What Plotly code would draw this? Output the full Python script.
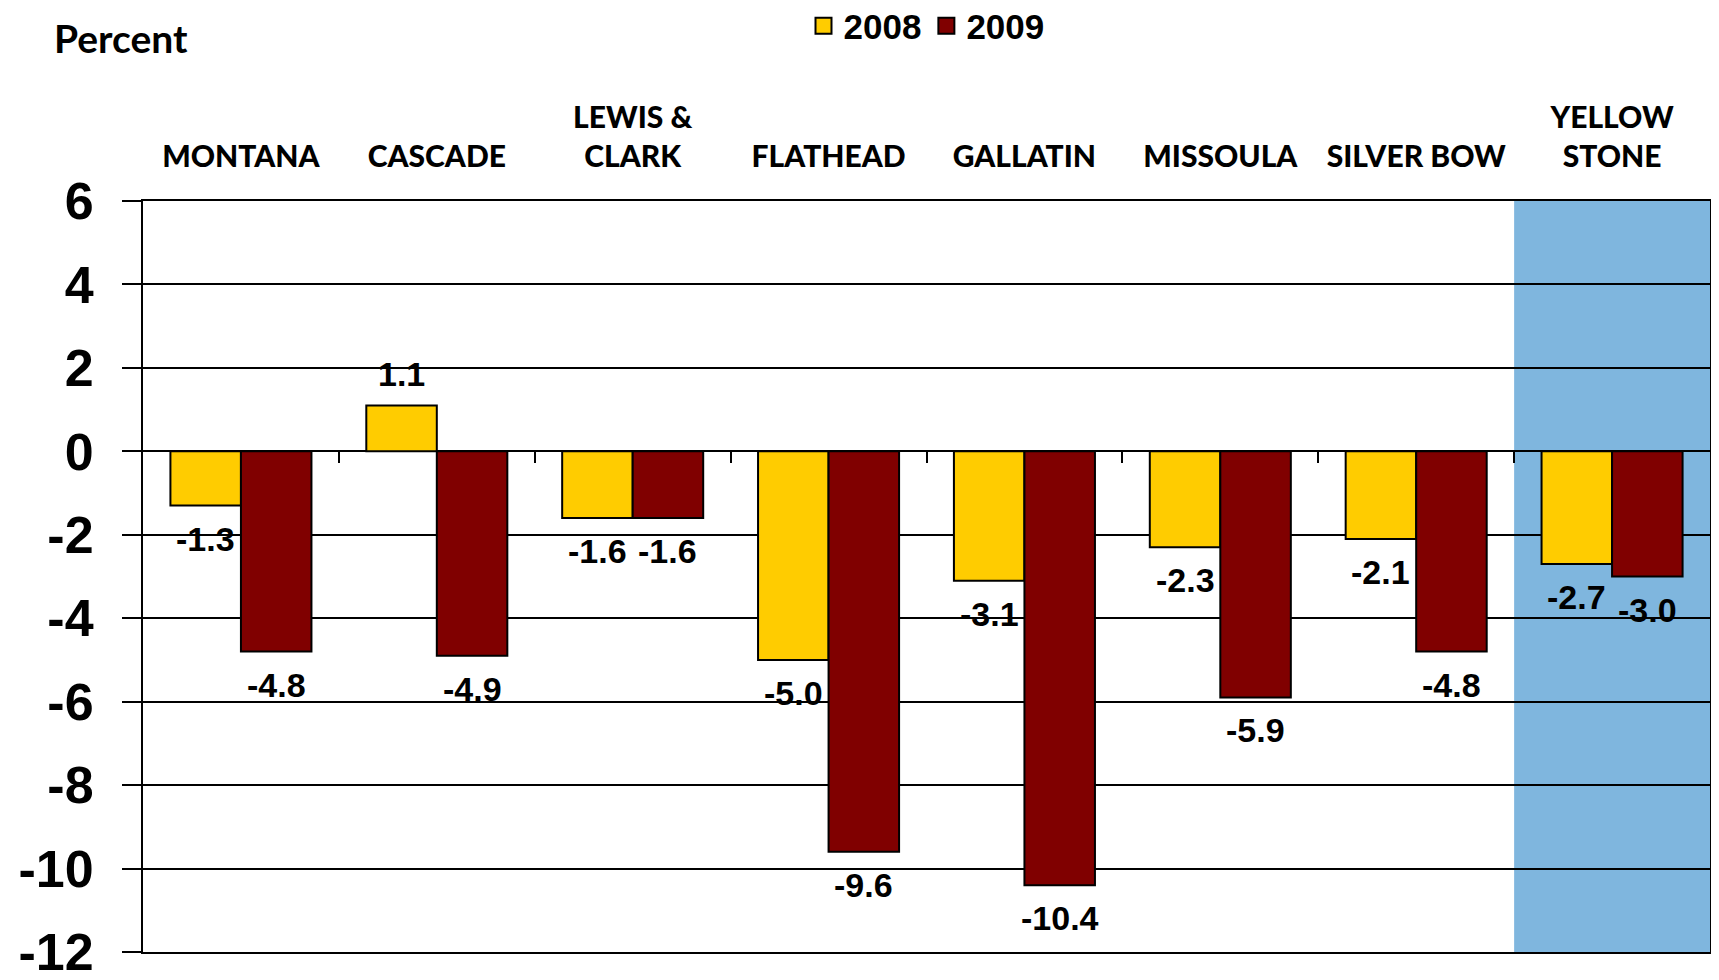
import plotly.graph_objects as go

categories = ["MONTANA", "CASCADE", "LEWIS &<br>CLARK", "FLATHEAD", "GALLATIN",
              "MISSOULA", "SILVER BOW", "YELLOW<br>STONE"]
values_2008 = [-1.3, 1.1, -1.6, -5.0, -3.1, -2.3, -2.1, -2.7]
values_2009 = [-4.8, -4.9, -1.6, -9.6, -10.4, -5.9, -4.8, -3.0]
series_names = ["2008", "2009"]
y_ticks = [-12, -10, -8, -6, -4, -2, 0, 2, 4, 6]
highlight_index = 7

YMIN, YMAX = -12, 6
BARGAP = 0.28
colors = ["#FFCC00", "#800000"]
n = len(categories)
idx = list(range(n))

fig = go.Figure()
for name, vals, col in zip(series_names, [values_2008, values_2009], colors):
    fig.add_trace(go.Bar(
        x=idx, y=vals, name=name, showlegend=False,
        marker=dict(color=col, line=dict(color="black", width=2)),
        hoverinfo="skip",
    ))

# legend entries with larger square swatches
for name, col in zip(series_names, colors):
    fig.add_trace(go.Scatter(
        x=[None], y=[None], name=name, mode="markers",
        marker=dict(symbol="square", size=18, color=col, line=dict(color="black", width=2)),
    ))

# invisible helper trace so the zero-line tick axis is drawn
fig.add_trace(go.Scatter(x=idx, y=[0] * n, xaxis="x2", mode="markers",
                         marker=dict(opacity=0), showlegend=False, hoverinfo="skip"))

# data labels
half = (1 - BARGAP) / 4
annotations = []
for k, vals in enumerate([values_2008, values_2009]):
    off = -half if k == 0 else half
    for i, v in enumerate(vals):
        annotations.append(dict(
            x=i + off, y=v, xref="x", yref="y",
            text=f"{v:.1f}",
            showarrow=False,
            yanchor="top" if v < 0 else "bottom",
            yshift=-12 if v < 0 else 10,
            font=dict(family="Liberation Sans", size=34, color="black", weight="bold"),
        ))

annotations.append(dict(
    x=-0.058, y=1.217, xref="paper", yref="paper", xanchor="left", yanchor="middle",
    text="Percent", showarrow=False,
    font=dict(family="Lato", size=39, color="black", weight="bold"),
))

fig.update_layout(
    width=1703, height=964,
    margin=dict(l=135, r=1, t=193, b=20, autoexpand=False),
    paper_bgcolor="white", plot_bgcolor="white",
    barmode="group", bargap=BARGAP, bargroupgap=0,
    showlegend=True,
    legend=dict(orientation="h", x=0.5, xanchor="center", y=1.233, yanchor="middle",
                font=dict(family="Liberation Sans", size=35, color="black", weight="bold"),
                itemwidth=30, traceorder="normal", bgcolor="rgba(0,0,0,0)",
                itemclick=False, itemdoubleclick=False),
    xaxis=dict(
        range=[-0.5, n - 0.5], side="top",
        tickmode="array", tickvals=idx, ticktext=categories,
        ticks="", showgrid=False, zeroline=False,
        showline=True, mirror=True, linecolor="black", linewidth=2,
        tickfont=dict(family="Lato", size=30, color="black", weight=900),
        ticklabelstandoff=20, automargin=False,
    ),
    xaxis2=dict(
        overlaying="x", anchor="free", position=(0 - YMIN) / (YMAX - YMIN),
        range=[-0.5, n - 0.5], side="bottom",
        tickmode="array", tickvals=[i + 0.5 for i in range(n - 1)],
        ticks="outside", ticklen=11, tickwidth=2, tickcolor="black",
        showticklabels=False, showgrid=False, zeroline=False, showline=False,
    ),
    yaxis=dict(
        range=[YMIN, YMAX], tickmode="array", tickvals=y_ticks,
        ticktext=[str(t) for t in y_ticks],
        showgrid=True, gridcolor="black", gridwidth=2,
        zeroline=False,
        showline=True, mirror=True, linecolor="black", linewidth=2,
        ticks="outside", ticklen=19, tickwidth=2, tickcolor="black",
        tickfont=dict(family="Liberation Sans", size=52, color="black", weight="bold"),
        ticklabelstandoff=18, automargin=False, ticklabeloverflow="allow",
    ),
    shapes=[dict(type="rect", xref="x", yref="paper",
                 x0=highlight_index - 0.5, x1=highlight_index + 0.5, y0=0, y1=1,
                 fillcolor="#7FB6DE", line=dict(width=0), layer="below")],
    annotations=annotations,
)

fig.write_html("out.html")
